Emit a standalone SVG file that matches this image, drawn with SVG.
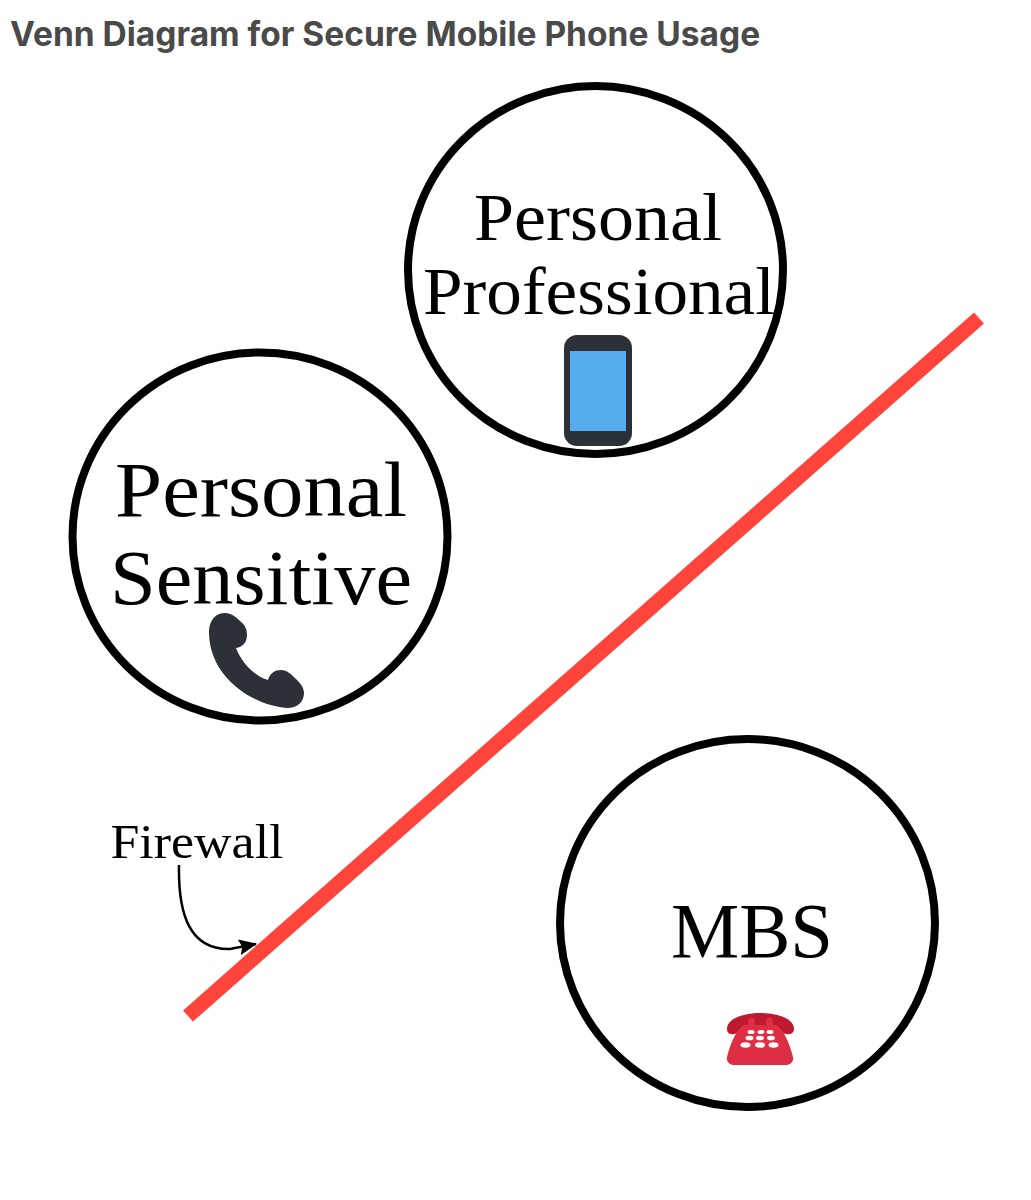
<svg xmlns="http://www.w3.org/2000/svg" width="1031" height="1200" viewBox="0 0 1031 1200">
<style>
.c{fill:none;stroke:#000;stroke-width:8}
.t{font-family:"Liberation Serif","DejaVu Serif",serif;fill:#000;text-anchor:middle}
.h{font-family:Inter,"Liberation Sans",sans-serif;font-weight:700;font-size:33.5px;fill:#4a4a4a}
</style>
<defs><marker id="a" markerWidth="18" markerHeight="16" refX="17" refY="8" orient="auto" markerUnits="userSpaceOnUse"><path d="M0 0L18 8L0 16L3 8Z" fill="#000"/></marker></defs>
<rect width="1031" height="1200" fill="#fff"/>
<text class="h" x="10" y="46">Venn Diagram for Secure Mobile Phone Usage</text>
<g id="connectors">
<line x1="188" y1="1016" x2="979" y2="318" stroke="#ff443c" stroke-width="15"/>
<path d="M179 865C178 915 190 950 230 949L256 944" fill="none" stroke="#000" stroke-width="2.5" marker-end="url(#a)"/>
</g>
<g id="professional">
<ellipse class="c" cx="595.500" cy="270" rx="187.500" ry="184"/>
<text class="t" x="598" y="240" font-size="68" textLength="248" lengthAdjust="spacingAndGlyphs">Personal</text>
<text class="t" x="599" y="314" font-size="68" textLength="352" lengthAdjust="spacingAndGlyphs">Professional</text>
<rect x="564" y="335" width="68" height="111" rx="13" fill="#2b3137"/>
<rect x="570" y="351" width="56" height="80" fill="#55acee"/>
</g>
<g id="sensitive">
<ellipse class="c" cx="260" cy="536.500" rx="187.500" ry="184"/>
<text class="t" x="261" y="516" font-size="78" textLength="292" lengthAdjust="spacingAndGlyphs">Personal</text>
<text class="t" x="261" y="604" font-size="78" textLength="302" lengthAdjust="spacingAndGlyphs">Sensitive</text>
<path d="M209 632C209 620 216 613 225 613C231 613 236 617 240 621C245 625 247 629 247 635C247 642 243 647 236 648C240 658 247 668 256 674C260 677 264 679 268 680C270 673 275 670 281 670C287 670 291 674 296 679C301 684 304 688 304 693C304 702 297 708 287 708C262 706 240 693 226 677C215 664 209 649 209 632Z" fill="#2b3137"/>
</g>
<g id="mbs">
<ellipse class="c" cx="747.500" cy="923" rx="187.500" ry="184"/>
<text class="t" x="752" y="957" font-size="78" textLength="162" lengthAdjust="spacingAndGlyphs">MBS</text>
<path d="M727 1029C727 1018 745 1013 760 1013C776 1013 794 1018 794 1029C794 1035 787 1035 782 1033L770 1027H750L738 1033C733 1035 727 1035 727 1029Z" fill="#be1931"/>
<path d="M748 1022C748 1016 755 1016 755 1022V1025H766V1022C766 1016 773 1016 773 1022V1025H777C785 1032 790 1045 793 1057C794 1062 790 1065 786 1065H734C730 1065 726 1062 727 1057C730 1045 735 1032 743 1025H748Z" fill="#dd2e44"/>
<g fill="#fff"><ellipse cx="751" cy="1032" rx="3.500" ry="2"/><ellipse cx="761" cy="1032" rx="3.500" ry="2"/><ellipse cx="770" cy="1032" rx="3.500" ry="2"/><ellipse cx="749.500" cy="1038" rx="4" ry="2.300"/><ellipse cx="760" cy="1038" rx="4" ry="2.300"/><ellipse cx="771" cy="1038" rx="4" ry="2.300"/><ellipse cx="745.500" cy="1045" rx="5" ry="2.800"/><ellipse cx="760" cy="1045" rx="5" ry="2.800"/><ellipse cx="773.500" cy="1045" rx="5" ry="2.800"/></g>
</g>
<g id="firewall-label"><text class="t" x="197" y="858" font-size="49" textLength="173" lengthAdjust="spacingAndGlyphs">Firewall</text></g>
</svg>
